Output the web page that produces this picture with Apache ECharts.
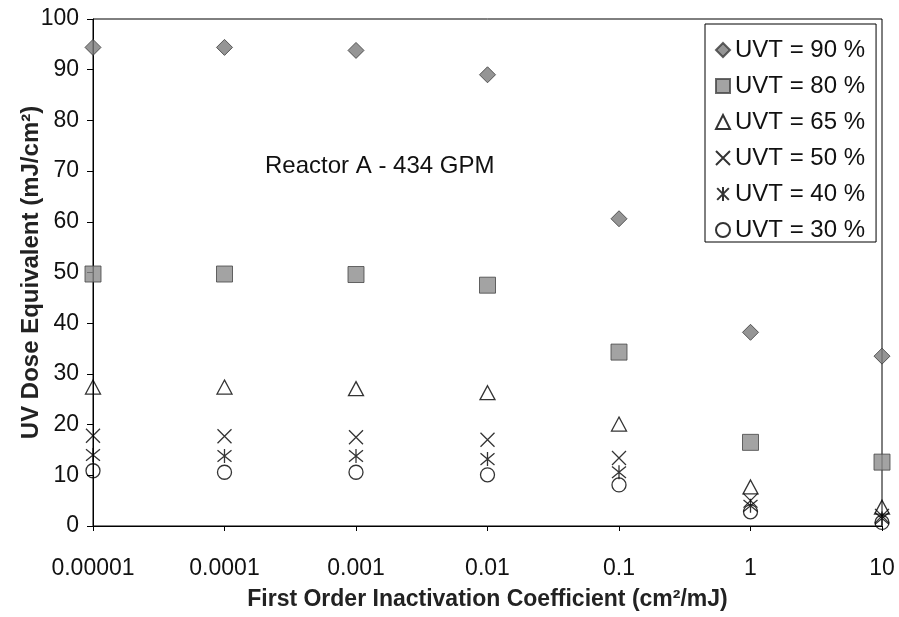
<!DOCTYPE html>
<html>
<head>
<meta charset="utf-8">
<script src="https://cdn.jsdelivr.net/npm/echarts@6/dist/echarts.min.js"></script>
<style>
  html, body { margin: 0; padding: 0; background: #fff; }
  #chart { width: 899px; height: 617px; }
</style>
</head>
<body>
<div id="chart"></div>
<script>
// x positions (cm2/mJ) and tick labels
const coefficients = [0.00001, 0.0001, 0.001, 0.01, 0.1, 1, 10];
const tickLabels = ['0.00001', '0.0001', '0.001', '0.01', '0.1', '1', '10'];

// UV dose equivalent (mJ/cm2) per UVT
const uvt90 = [94.4, 94.4, 93.8, 89.0, 60.6, 38.2, 33.5];
const uvt80 = [49.7, 49.7, 49.6, 47.5, 34.3, 16.5, 12.6];
const uvt65 = [27.4, 27.4, 27.1, 26.3, 20.1, 7.7, 3.7];
const uvt50 = [17.8, 17.7, 17.5, 17.0, 13.4, 5.0, 2.0];
const uvt40 = [14.0, 13.8, 13.8, 13.2, 10.6, 4.0, 1.5];
const uvt30 = [10.9, 10.6, 10.6, 10.1, 8.1, 2.8, 0.7];

const seriesNames = ['UVT = 90 %', 'UVT = 80 %', 'UVT = 65 %', 'UVT = 50 %', 'UVT = 40 %', 'UVT = 30 %'];

const pair = (ys) => coefficients.map((x, i) => [x, ys[i]]);

const xPath = 'path://M0,0L10,10M10,0L0,10';
const starPath = 'path://M0,0L10,10M10,0L0,10M5,-1L5,11';
const font = 'Liberation Sans, Arial, sans-serif';

const chart = echarts.init(document.getElementById('chart'));

chart.setOption({
  animation: false,
  textStyle: { fontFamily: font },
  grid: {
    left: 93, right: 17, top: 19, bottom: 91,
    show: true, borderColor: '#000', borderWidth: 1, backgroundColor: '#fff'
  },
  legend: {
    orient: 'vertical',
    left: 705, top: 24,
    padding: [14, 11, 0, 10],
    itemGap: 12,
    itemWidth: 14, itemHeight: 14,
    backgroundColor: '#fff',
    borderColor: '#000', borderWidth: 1,
    textStyle: { fontSize: 24, color: '#111' },
    data: seriesNames
  },
  xAxis: {
    type: 'log',
    logBase: 10,
    min: 0.00001,
    max: 10,
    name: 'First Order Inactivation Coefficient (cm²/mJ)',
    nameLocation: 'middle',
    nameGap: 62,
    nameMoveOverlap: false,
    nameTextStyle: { fontSize: 23, fontWeight: 'bold', color: '#222', verticalAlign: 'top' },
    axisLine: { lineStyle: { color: '#000', width: 1 } },
    axisTick: { show: true, length: 5, lineStyle: { color: '#000' } },
    minorTick: { show: false },
    splitLine: { show: false },
    axisLabel: {
      fontSize: 23, color: '#111', margin: 31,
      formatter: (v) => tickLabels[Math.round(Math.log10(v)) + 5]
    }
  },
  yAxis: {
    type: 'value',
    min: 0, max: 100, interval: 10,
    name: 'UV Dose Equivalent (mJ/cm²)',
    nameLocation: 'middle',
    nameGap: 50,
    nameMoveOverlap: false,
    nameTextStyle: { fontSize: 24, fontWeight: 'bold', color: '#222' },
    axisLine: { show: true, lineStyle: { color: '#000', width: 1 } },
    axisTick: { show: true, length: 6, lineStyle: { color: '#000' } },
    splitLine: { show: false },
    axisLabel: { fontSize: 23, color: '#111', margin: 14 }
  },
  graphic: [{
    type: 'text',
    left: 265, top: 154,
    style: { text: 'Reactor A - 434 GPM', fontSize: 24, fill: '#111', fontFamily: font }
  }],
  series: [
    {
      name: seriesNames[0], type: 'scatter', data: pair(uvt90),
      symbol: 'diamond', symbolSize: [16, 16],
      itemStyle: { color: '#7a7a7a', borderColor: '#3a3a3a', borderWidth: 1 }
    },
    {
      name: seriesNames[1], type: 'scatter', data: pair(uvt80),
      symbol: 'rect', symbolSize: 16,
      itemStyle: { color: '#8c8c8c', borderColor: '#444', borderWidth: 1 }
    },
    {
      name: seriesNames[2], type: 'scatter', data: pair(uvt65),
      symbol: 'triangle', symbolSize: [15, 14],
      itemStyle: { color: 'rgba(255,255,255,0)', borderColor: '#000', borderWidth: 1.3 }
    },
    {
      name: seriesNames[3], type: 'scatter', data: pair(uvt50),
      symbol: xPath, symbolSize: 14,
      itemStyle: { color: 'rgba(255,255,255,0)', borderColor: '#000', borderWidth: 1.3 }
    },
    {
      name: seriesNames[4], type: 'scatter', data: pair(uvt40),
      symbol: starPath, symbolSize: 14,
      itemStyle: { color: 'rgba(255,255,255,0)', borderColor: '#000', borderWidth: 1.3 }
    },
    {
      name: seriesNames[5], type: 'scatter', data: pair(uvt30),
      symbol: 'circle', symbolSize: 14,
      itemStyle: { color: 'rgba(255,255,255,0)', borderColor: '#000', borderWidth: 1.3 }
    }
  ]
});
</script>
</body>
</html>
